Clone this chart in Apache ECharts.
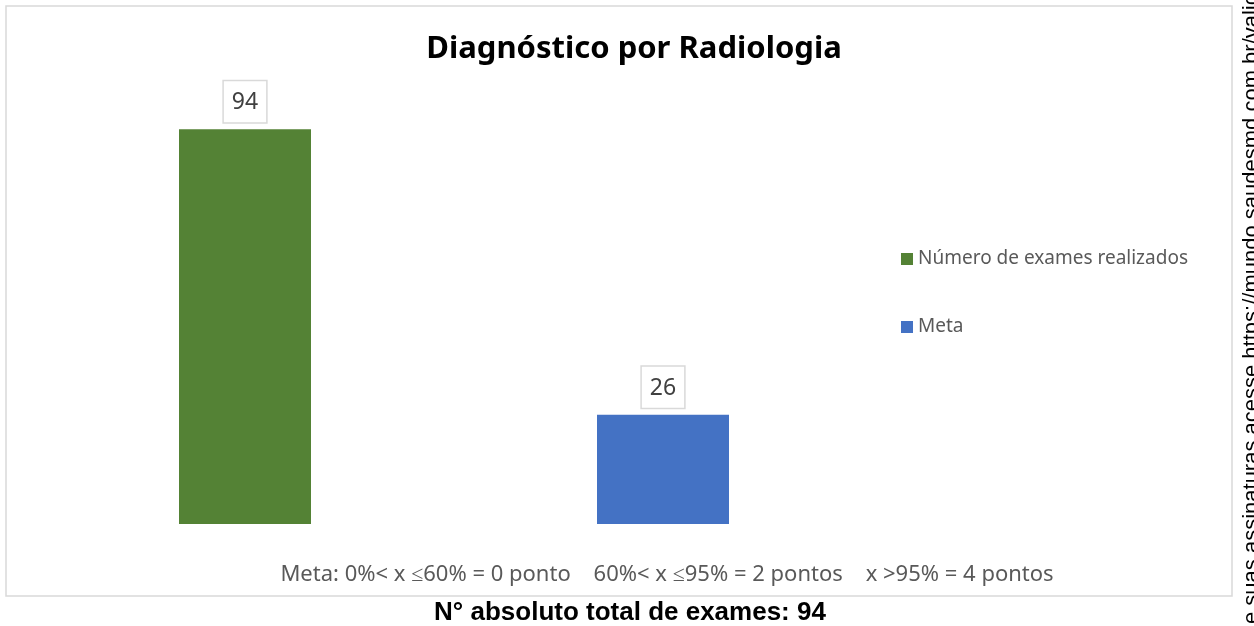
<!DOCTYPE html>
<html>
<head>
<meta charset="utf-8">
<script src="https://cdn.jsdelivr.net/npm/echarts@6/dist/echarts.min.js"></script>
<style>
  html, body { margin: 0; padding: 0; background: #fff; }
  #chart { width: 1254px; height: 626px; }
</style>
</head>
<body>
<div id="chart"></div>
<script>
// dados
const categories = ['Número de exames realizados', 'Meta']
const exames = [94, '-']
const meta = ['-', 26]
const footerText = 'Meta: 0%< x ≤60% = 0 ponto    60%< x ≤95% = 2 pontos    x >95% = 4 pontos'
const totalText = 'N° absoluto total de exames: 94'

const labelStyle = {
  show: true,
  position: 'top',
  distance: 7,
  fontFamily: 'Noto Sans',
  fontSize: 23,
  color: '#404040',
  backgroundColor: '#fff',
  borderColor: '#d9d9d9',
  borderWidth: 1.5,
  padding: [10, 8, 8, 8]
}

const chart = echarts.init(document.getElementById('chart'))
chart.setOption({
  animation: false,
  backgroundColor: '#fff',
  title: {
    text: 'Diagnóstico por Radiologia',
    left: 629,
    textAlign: 'center',
    top: 29,
    textStyle: { fontFamily: 'Noto Sans', fontWeight: 'bold', fontSize: 31, color: '#000' }
  },
  legend: {
    orient: 'vertical',
    left: 896,
    top: 244,
    itemWidth: 12,
    itemHeight: 12,
    itemGap: 48,
    icon: 'rect',
    textStyle: { fontFamily: 'Noto Sans', fontSize: 19, color: '#595959', lineHeight: 20 }
  },
  grid: { left: 36, width: 836, top: 104, height: 420 },
  xAxis: {
    type: 'category',
    data: categories,
    axisLine: { show: false },
    axisTick: { show: false },
    axisLabel: { show: false }
  },
  yAxis: {
    type: 'value',
    min: 0,
    max: 100,
    show: false,
    splitLine: { show: false }
  },
  series: [
    {
      name: 'Número de exames realizados',
      type: 'bar',
      barWidth: 132,
      barGap: '-100%',
      itemStyle: { color: '#548235' },
      label: labelStyle,
      data: exames
    },
    {
      name: 'Meta',
      type: 'bar',
      barWidth: 132,
      barGap: '-100%',
      itemStyle: { color: '#4472c4' },
      label: labelStyle,
      data: meta
    }
  ],
  graphic: [
    // moldura
    {
      type: 'rect',
      shape: { x: 6, y: 6, width: 1226, height: 590 },
      style: { fill: 'none', stroke: '#d9d9d9', lineWidth: 1.5 },
      z: -10
    },
    {
      type: 'text',
      x: 667,
      y: 575,
      style: {
        text: footerText,
        align: 'center',
        verticalAlign: 'middle',
        fontFamily: 'Noto Sans',
        fontSize: 22,
        fill: '#595959'
      }
    },
    {
      type: 'text',
      x: 630,
      y: 613,
      style: {
        text: totalText,
        align: 'center',
        verticalAlign: 'middle',
        fontFamily: 'Liberation Sans',
        fontWeight: 'bold',
        fontSize: 26,
        fill: '#000'
      }
    },
    {
      type: 'text',
      x: 1252,
      y: 624,
      rotation: Math.PI / 2,
      style: {
        text: 'e suas assinaturas acesse https://mundo.saudesmd.com.br/valid',
        align: 'left',
        verticalAlign: 'middle',
        fontFamily: 'Liberation Sans',
        fontSize: 22,
        fill: '#000'
      }
    }
  ]
})
</script>
</body>
</html>
